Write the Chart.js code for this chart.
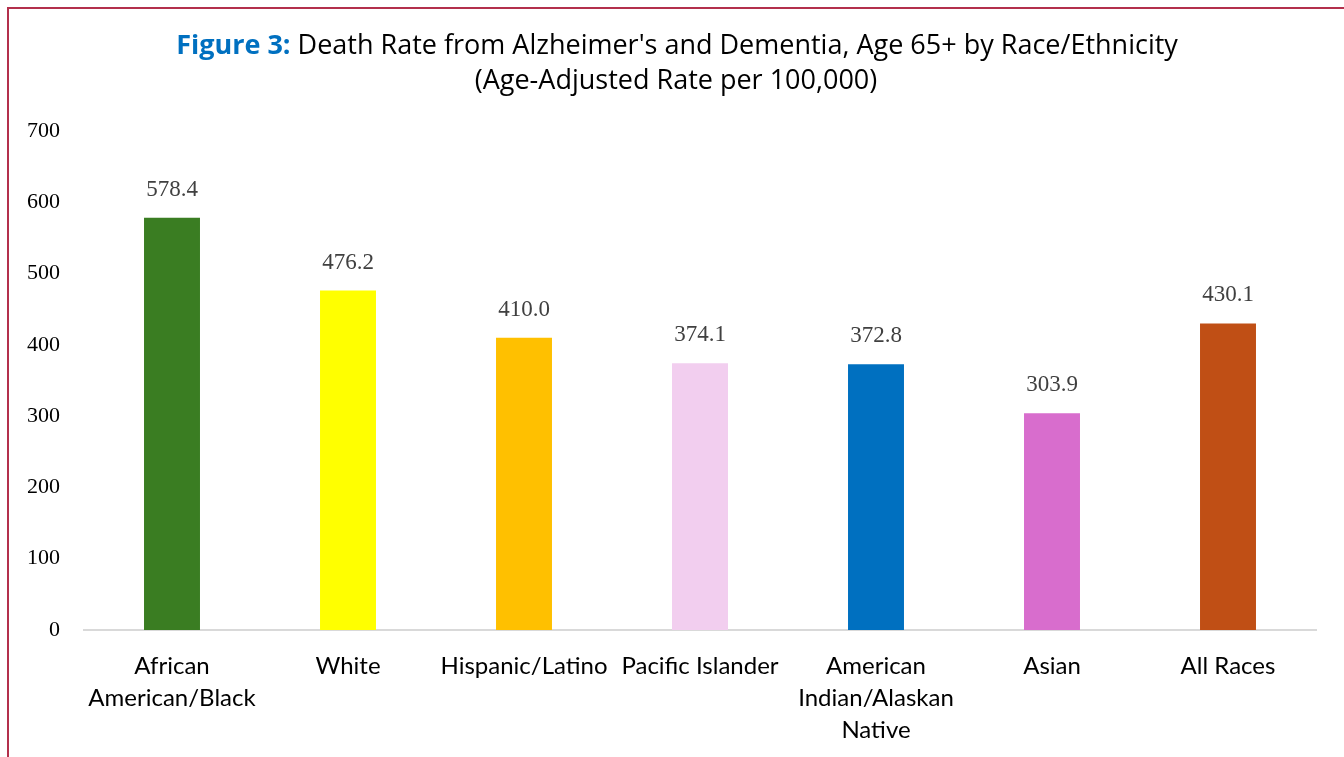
<!DOCTYPE html>
<html>
<head>
<meta charset="utf-8">
<script src="https://cdn.jsdelivr.net/npm/chart.js@4.4.1/dist/chart.umd.min.js"></script>
<style>
  html, body { margin: 0; padding: 0; background: #fff; }
  #wrap { position: relative; width: 1344px; height: 757px; overflow: hidden; }
  #frame { position: absolute; left: 7px; top: 7px; width: 1400px; height: 800px;
           border-left: 2px solid #b3304c; border-top: 2px solid #b3304c; }
  canvas { position: absolute; left: 0; top: 0; }
</style>
</head>
<body>
<div id="wrap">
  <div id="frame"></div>
  <canvas id="chart" width="1344" height="757"></canvas>
</div>
<script>
const categories = [
  ["African", "American/Black"],
  "White",
  "Hispanic/Latino",
  "Pacific Islander",
  ["American", "Indian/Alaskan", "Native"],
  "Asian",
  "All Races"
]
const rates = [578.4, 476.2, 410.0, 374.1, 372.8, 303.9, 430.1]
const barColors = ["#3a7d22", "#ffff00", "#ffc000", "#f2ceef", "#0070c0", "#d86dcd", "#c04f15"]
const yTicks = [0, 100, 200, 300, 400, 500, 600, 700]

const titleLead = "Figure 3:"
const titleRest = " Death Rate from Alzheimer's and Dementia, Age 65+ by Race/Ethnicity"
const subtitle = "(Age-Adjusted Rate per 100,000)"

const titlePlugin = {
  id: "titleText",
  afterDraw(chart) {
    const ctx = chart.ctx
    ctx.save()
    ctx.textBaseline = "middle"
    ctx.textAlign = "left"
    const bold = "bold 27px 'Open Sans'"
    const norm = "27px 'Open Sans'"
    ctx.font = bold
    const w1 = ctx.measureText(titleLead).width
    ctx.font = norm
    const w2 = ctx.measureText(titleRest).width
    const x0 = 677 - (w1 + w2) / 2
    ctx.font = bold
    ctx.fillStyle = "#0070c0"
    ctx.fillText(titleLead, x0, 46)
    ctx.font = norm
    ctx.fillStyle = "#000"
    ctx.fillText(titleRest, x0 + w1, 46)
    ctx.textAlign = "center"
    ctx.fillText(subtitle, 676, 81)
    ctx.restore()
  }
}

const labelPlugin = {
  id: "barValues",
  afterDatasetsDraw(chart) {
    const ctx = chart.ctx
    const meta = chart.getDatasetMeta(0)
    ctx.save()
    ctx.font = "23px 'Liberation Serif'"
    ctx.fillStyle = "#404040"
    ctx.textAlign = "center"
    ctx.textBaseline = "middle"
    meta.data.forEach((bar, i) => {
      ctx.fillText(rates[i].toFixed(1), bar.x, bar.y - 28)
    })
    ctx.restore()
  }
}

new Chart(document.getElementById("chart"), {
  type: "bar",
  data: {
    labels: categories,
    datasets: [{
      data: rates,
      backgroundColor: barColors,
      barPercentage: 0.318,
      categoryPercentage: 1,
    }],
  },
  options: {
    responsive: false,
    animation: false,
    layout: { padding: { left: 0, right: 28, top: 131, bottom: 0 } },
    plugins: { legend: { display: false }, tooltip: { enabled: false }, title: { display: false } },
    scales: {
      x: {
        grid: { display: false, drawTicks: false },
        border: { display: true, color: "#d9d9d9", width: 2 },
        ticks: { color: "#000", font: { family: "Lato", size: 24, lineHeight: 1.333 }, padding: 20, maxRotation: 0, autoSkip: false },
        afterFit(axis) { axis.height = 127 },
      },
      y: {
        min: 0,
        max: 700,
        afterBuildTicks(axis) { axis.ticks = yTicks.map(v => ({ value: v })) },
        grid: { display: false, drawTicks: false },
        border: { display: false },
        ticks: { color: "#000", font: { family: "Liberation Serif", size: 22 }, padding: 24 },
        afterFit(axis) { axis.width = 84 },
      },
    },
  },
  plugins: [titlePlugin, labelPlugin],
})
</script>
</body>
</html>
